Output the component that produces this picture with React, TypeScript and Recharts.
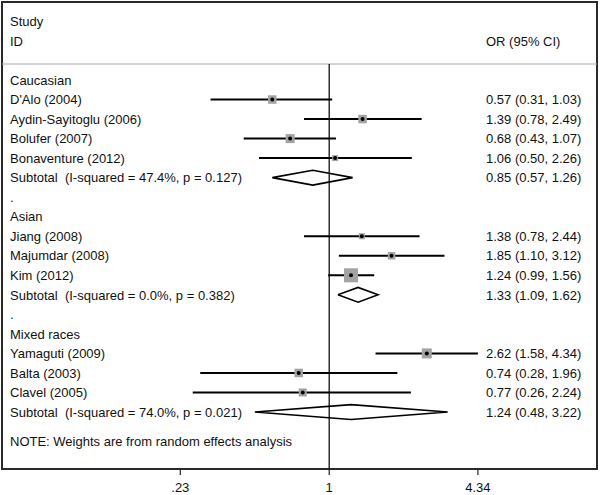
import React from "react";
import {
  ComposedChart,
  XAxis,
  YAxis,
  Scatter,
  Line,
  ReferenceLine,
  ReferenceArea,
} from "recharts";

// ---- data ----
const groupNames = ["Caucasian", "Asian", "Mixed races"];
const studyNames = [
  "D'Alo (2004)",
  "Aydin-Sayitoglu (2006)",
  "Bolufer (2007)",
  "Bonaventure (2012)",
  "Jiang (2008)",
  "Majumdar (2008)",
  "Kim (2012)",
  "Yamaguti (2009)",
  "Balta (2003)",
  "Clavel (2005)",
];
const studyGroup = [0, 0, 0, 0, 1, 1, 1, 2, 2, 2];
const studyOR = [0.57, 1.39, 0.68, 1.06, 1.38, 1.85, 1.24, 2.62, 0.74, 0.77];
const studyLower = [0.31, 0.78, 0.43, 0.5, 0.78, 1.1, 0.99, 1.58, 0.28, 0.26];
const studyUpper = [1.03, 2.49, 1.07, 2.26, 2.44, 3.12, 1.56, 4.34, 1.96, 2.24];
const studyWeight = [10.7, 10.7, 12.0, 5.3, 5.3, 8.3, 29.0, 14.8, 10.7, 9.5];
const subOR = [0.85, 1.33, 1.24];
const subLower = [0.57, 1.09, 0.48];
const subUpper = [1.26, 1.62, 3.22];
const subI2 = ["47.4%", "0.0%", "74.0%"];
const subP = ["0.127", "0.382", "0.021"];
const axisTicks = [0.23, 1, 4.34];
const axisTickLabels = [".23", "1", "4.34"];
const noteText = "NOTE: Weights are from random effects analysis";

// ---- layout (rows) ----
const fmt = (v: number) => v.toFixed(2);
const leftLabels: Record<string, string> = {};
const rightLabels: Record<string, string> = {};
const studyRows: { x: number; y: number; w: number; lo: number; hi: number }[] = [];
const subRows: { or: number; lo: number; hi: number; y: number }[] = [];
leftLabels["-3"] = "Study";
leftLabels["-2"] = "ID";
rightLabels["-2"] = "OR (95% CI)";
let r = 0;
groupNames.forEach((g, gi) => {
  leftLabels[String(r)] = g;
  r++;
  studyNames.forEach((s, si) => {
    if (studyGroup[si] !== gi) return;
    leftLabels[String(r)] = s;
    rightLabels[String(r)] = `${fmt(studyOR[si])} (${fmt(studyLower[si])}, ${fmt(studyUpper[si])})`;
    studyRows.push({ x: studyOR[si], y: r, w: studyWeight[si], lo: studyLower[si], hi: studyUpper[si] });
    r++;
  });
  leftLabels[String(r)] = `Subtotal\u00a0\u00a0(I-squared = ${subI2[gi]}, p = ${subP[gi]})`;
  rightLabels[String(r)] = `${fmt(subOR[gi])} (${fmt(subLower[gi])}, ${fmt(subUpper[gi])})`;
  subRows.push({ or: subOR[gi], lo: subLower[gi], hi: subUpper[gi], y: r });
  r++;
  if (gi < groupNames.length - 1) {
    leftLabels[String(r)] = ".";
    r++;
  }
});
const noteRow = r + 0.5;
leftLabels[String(noteRow)] = noteText;
const rowTicks = Object.keys(leftLabels)
  .concat(Object.keys(rightLabels))
  .map(Number)
  .filter((v, i, a) => a.indexOf(v) === i)
  .sort((a, b) => a - b);

const X_MIN = 0.03957;
const X_MAX = 14.06;
const Y_MIN = -3.994;
const Y_MAX = 19.918;
const SEP_ROW = -0.819;
const DIA_H = 0.38;

const FONT = "'Liberation Sans', Arial, sans-serif";
const TEXT_COLOR = "#111";

const RowTick = (props: any) => {
  const { y, payload } = props;
  const key = String(payload.value);
  return (
    <g>
      {leftLabels[key] !== undefined && (
        <text x={10} y={y} dy="0.36em" fontSize={13} fontFamily={FONT} fill={TEXT_COLOR} textAnchor="start">
          {leftLabels[key]}
        </text>
      )}
      {rightLabels[key] !== undefined && (
        <text x={486} y={y} dy="0.36em" fontSize={13} fontFamily={FONT} fill={TEXT_COLOR} textAnchor="start">
          {rightLabels[key]}
        </text>
      )}
    </g>
  );
};

const XTick = (props: any) => {
  const { x, y, payload } = props;
  const idx = axisTicks.indexOf(payload.value);
  return (
    <text x={x} y={y} dy="0.71em" fontSize={13} fontFamily={FONT} fill={TEXT_COLOR} textAnchor="middle">
      {idx >= 0 ? axisTickLabels[idx] : ""}
    </text>
  );
};

const BoxShape = (props: any) => {
  const { cx, cy, payload } = props;
  const side = 2.6 * Math.sqrt(payload.w);
  return (
    <g>
      <rect x={cx - side / 2} y={cy - side / 2} width={side} height={side} fill="#a3a3a3" />
      <circle cx={cx} cy={cy} r={2} fill="#000" />
    </g>
  );
};

export default function App() {
  return (
    <div style={{ position: "absolute", left: 0, top: 0, width: 600, height: 495, background: "#fff" }}>
      <ComposedChart width={600} height={495} margin={{ top: 2, right: 3, bottom: 0, left: 1 }}>
        <XAxis
          type="number"
          dataKey="x"
          scale="log"
          domain={[X_MIN, X_MAX]}
          allowDataOverflow
          ticks={axisTicks}
          interval={0}
          axisLine={false}
          tickLine={{ stroke: "#222", strokeWidth: 1.2 }}
          tickSize={6}
          tickMargin={8}
          height={26}
          tick={<XTick />}
        />
        <YAxis
          type="number"
          dataKey="y"
          domain={[Y_MIN, Y_MAX]}
          allowDataOverflow
          reversed
          ticks={rowTicks}
          interval={0}
          width={1}
          axisLine={false}
          tickLine={false}
          tick={<RowTick />}
        />
        <ReferenceArea
          x1={X_MIN}
          x2={X_MAX}
          y1={Y_MIN}
          y2={Y_MAX}
          fill="none"
          fillOpacity={0}
          stroke="#2a2a2a"
          strokeWidth={2}
          ifOverflow="visible"
        />
        <ReferenceLine y={SEP_ROW} stroke="#a8a8a8" strokeWidth={1.2} ifOverflow="visible" />
        <ReferenceLine
          segment={[
            { x: 1, y: SEP_ROW },
            { x: 1, y: Y_MAX },
          ]}
          stroke="#111"
          strokeWidth={1.3}
          ifOverflow="visible"
        />
        {studyRows.map((s, i) => (
          <ReferenceLine
            key={"ci" + i}
            segment={[
              { x: s.lo, y: s.y },
              { x: s.hi, y: s.y },
            ]}
            stroke="#000"
            strokeWidth={2}
            ifOverflow="visible"
          />
        ))}
        {subRows.map((d, i) => (
          <Line
            key={"dia" + i}
            data={[
              { x: d.lo, y: d.y },
              { x: d.or, y: d.y - DIA_H },
              { x: d.hi, y: d.y },
              { x: d.or, y: d.y + DIA_H },
              { x: d.lo, y: d.y },
            ]}
            dataKey="y"
            type="linear"
            stroke="#000"
            strokeWidth={1.6}
            dot={false}
            activeDot={false}
            isAnimationActive={false}
          />
        ))}
        <Scatter data={studyRows} dataKey="y" shape={<BoxShape />} isAnimationActive={false} />
      </ComposedChart>
    </div>
  );
}
